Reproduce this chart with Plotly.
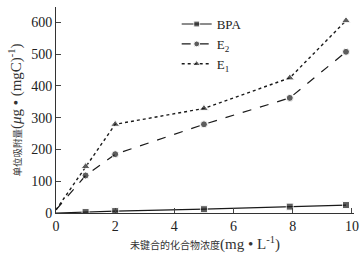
import plotly.graph_objects as go

x_vals = [0, 1, 2, 5, 7.9, 9.8]
bpa = [0, 3, 6, 12, 20, 25]
e2 = [10, 118, 185, 279, 362, 507]
e1 = [10, 146, 279, 329, 425, 605]
x_ticks = [0, 2, 4, 6, 8, 10]
y_ticks = [0, 100, 200, 300, 400, 500, 600]

sizes = [0, 7, 7, 7, 7, 7]
col = "#1a1a1a"
fig = go.Figure()
fig.add_trace(go.Scatter(x=x_vals, y=bpa, name="BPA", mode="lines+markers",
                         line=dict(color=col, width=1.2, dash="solid"),
                         marker=dict(symbol="square", size=sizes, color=col)))
fig.add_trace(go.Scatter(x=x_vals, y=e2, name="E<sub>2</sub>", mode="lines+markers",
                         line=dict(color=col, width=1.2, dash="dash"),
                         marker=dict(symbol="circle", size=sizes, color=col)))
fig.add_trace(go.Scatter(x=x_vals, y=e1, name="E<sub>1</sub>", mode="lines+markers",
                         line=dict(color=col, width=1.4, dash="dot"),
                         marker=dict(symbol="triangle-up", size=[0, 8, 8, 8, 8, 8], color=col)))

serif = "Liberation Serif, Noto Sans CJK SC"
fig.update_layout(
    width=364, height=253,
    margin=dict(l=56, r=10, t=7, b=40),
    paper_bgcolor="white", plot_bgcolor="white",
    font=dict(family=serif, color="#222222", size=13),
    legend=dict(x=0.405, y=0.99, xanchor="left", yanchor="top",
                bgcolor="rgba(0,0,0,0)", font=dict(size=13, color="#222222"), itemwidth=30,
                tracegroupgap=0),
    xaxis=dict(range=[0, 10.07], tickvals=x_ticks, ticks="inside", ticklen=5,
               showline=True, linecolor="#333333", linewidth=1, showgrid=False, zeroline=False,
               automargin=False, tickfont=dict(size=14, color="#222222"),
               title=dict(text='<span style="font-size:10px">未键合的化合物浓度</span>(mg\u00a0•\u00a0L<sup>-1</sup>)',
                          font=dict(size=15, color="#333333"), standoff=2)),
    yaxis=dict(range=[0, 648], tickvals=y_ticks, ticks="inside", ticklen=5,
               showline=True, linecolor="#333333", linewidth=1, showgrid=False, zeroline=False,
               automargin=False, tickfont=dict(size=14, color="#222222"),
               title=dict(text='<span style="font-size:9.5px">单位吸附量</span>(<i>μ</i>g\u00a0•\u00a0(mgC)<sup>-1</sup>)',
                          font=dict(size=15, color="#333333"), standoff=5)),
)
fig.write_html("out.html", config={"displayModeBar": False},
               post_script="document.body.style.margin='0';")
